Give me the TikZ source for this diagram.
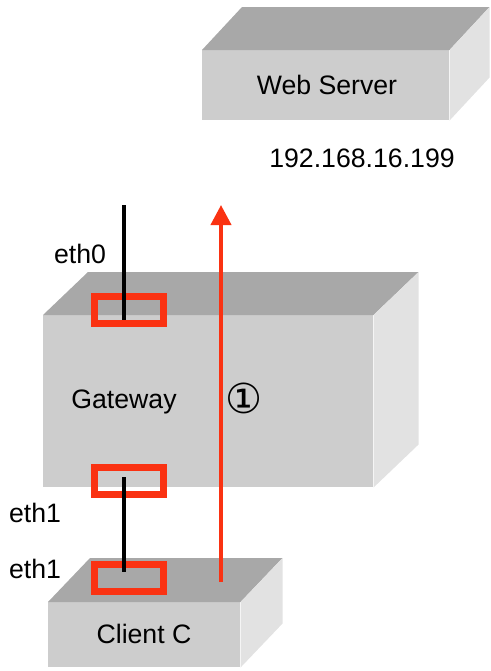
\documentclass[tikz,border=0pt]{standalone}
\usepackage{fontspec}
\setmainfont{Liberation Sans}
\newfontfamily\symbolfont{DejaVu Sans}
\usetikzlibrary{calc}
\usetikzlibrary{arrows.meta}
\definecolor{frontgray}{RGB}{205,205,205}
\definecolor{topgray}{RGB}{168,168,168}
\definecolor{sidegray}{RGB}{226,226,226}
\definecolor{portred}{RGB}{250,50,18}
\tikzstyle{front}=[fill=frontgray,inner sep=0pt,anchor=north west]
\tikzstyle{topface}=[fill=topgray]
\tikzstyle{sideface}=[fill=sidegray]
\tikzstyle{port}=[draw=portred,line width=5.25pt,minimum width=51.75pt,minimum height=20.25pt,inner sep=0pt]
\tikzstyle{cable}=[draw,line width=3.5pt]
\tikzstyle{flow}=[draw=portred,line width=3pt,-{Triangle[length=15pt,width=15pt]}]
\tikzstyle{txt}=[font=\fontsize{20}{24}\selectfont,anchor=base,inner sep=0pt]

\begin{document}
\begin{tikzpicture}[x=0.75pt,y=-0.75pt]
    \useasboundingbox (0,0) rectangle (490,671);
    % The three boxes: front face as a node, top and side faces behind it
    \foreach \name/\pos/\w/\h/\dx/\dy in {web/{(202,50)}/185.25pt/52.5pt/40/-43, gateway/{(43,315)}/247.5pt/129pt/45/-43, client/{(48,602)}/144pt/48.75pt/42/-44}
    {
        \node[front, minimum width=\w, minimum height=\h] (\name) at \pos {};
        \fill[topface] (\name.north west) -- ++(\dx,\dy) -- ($(\name.north east)+(\dx,\dy)$) -- (\name.north east) -- cycle;
        \fill[sideface] (\name.north east) -- ++(\dx,\dy) -- ($(\name.south east)+(\dx,\dy)$) -- (\name.south east) -- cycle;
    }

    % Texts
    \node[txt] (webtext) at (327,94) {Web Server};
    \node[txt] (webip) at (362,167) {192.168.16.199};
    \node[txt] (gwtext) at (124,408) {Gateway};
    \node[txt] (cltext) at (144,643) {Client C};
    \node[txt] (eth0text) at (80,263) {eth0};
    \node[txt] (eth1gwtext) at (35,522) {eth1};
    \node[txt] (eth1cltext) at (35,578) {eth1};
    \node[font=\symbolfont\fontsize{31}{36}\selectfont,inner sep=0pt] (step1) at (244,398) {①};

    % Interfaces
    \node[port] (eth0port) at (129,310) {};
    \node[port] (eth1gw) at (129,481) {};
    \node[port] (eth1cl) at (129,578) {};

    % Cables
    \coordinate (uplink) at (124,205);
    \coordinate (eth0end) at (124,320);
    \path[cable] (uplink) -- (eth0end);
    \path[cable] ($(eth1gw.center)+(-5,-4)$) -- ($(eth1cl.center)+(-5,-6)$);

    % Request path
    \coordinate (flowstart) at (221,582);
    \coordinate (flowend) at (221,205);
    \path[flow] (flowstart) -- (flowend);
\end{tikzpicture}
\end{document}
